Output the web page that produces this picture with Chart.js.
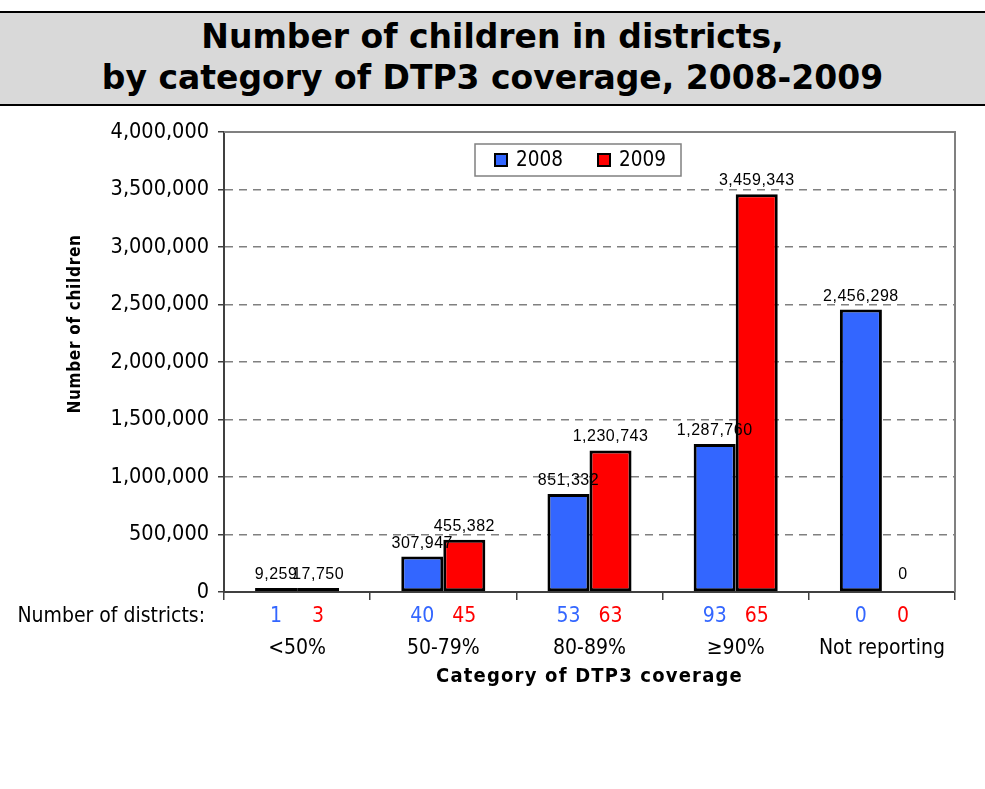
<!DOCTYPE html>
<html>
<head>
<meta charset="utf-8">
<script src="https://cdn.jsdelivr.net/npm/chart.js@4.4.1/dist/chart.umd.min.js"></script>
<style>
  html, body { margin: 0; padding: 0; background: #ffffff; }
  #wrap { position: relative; width: 985px; height: 789px; }
  #title {
    position: absolute; left: 0; top: 11px; width: 985px; height: 88px;
    background: #d9d9d9; border-top: 2px solid #000; border-bottom: 2px solid #000;
    font-family: "DejaVu Sans", Verdana, sans-serif; font-weight: bold;
    font-size: 33px; line-height: 41px; text-align: center; padding-top: 3px;
    box-sizing: content-box; z-index: 2;
  }
  canvas { position: absolute; left: 0; top: 0; }
</style>
</head>
<body>
<div id="wrap">
  <div id="title">Number of children in districts,<br>by category of DTP3 coverage, 2008-2009</div>
  <canvas id="chart" width="985" height="789"></canvas>
</div>
<script>
// Data
const categories = ['<50%', '50-79%', '80-89%', '\u226590%', 'Not reporting'];
const seriesNames = ['2008', '2009'];
const children2008 = [9259, 307947, 851332, 1287760, 2456298];
const children2009 = [17750, 455382, 1230743, 3459343, 0];
const districts2008 = [1, 40, 53, 93, 0];
const districts2009 = [3, 45, 63, 65, 0];
const yTicks = [0, 500000, 1000000, 1500000, 2000000, 2500000, 3000000, 3500000, 4000000];

const BLUE = '#3366ff';
const RED = '#ff0000';
const AXIS = '#404040';
const FONT = '"DejaVu Sans Condensed", "DejaVu Sans", Verdana, sans-serif';
const seriesColors = [BLUE, RED];

function fmt(n) {
    return n.toLocaleString('en-US');
}

// hide bars that are exactly zero (min bar length would show them)
const fillFor = (color) => (c) => (c.raw === 0 ? 'rgba(0,0,0,0)' : color);
const borderFor = (c) => (c.raw === 0 ? 0 : 3);

// value labels, district counts, axis titles, legend and plot frame
const extras = {
    id: 'extras',
    afterDatasetsDraw(chart) {
        const ctx = chart.ctx;
        const area = chart.chartArea;

        // plot frame (top + right)
        ctx.save();
        ctx.strokeStyle = '#808080';
        ctx.lineWidth = 2;
        ctx.beginPath();
        ctx.moveTo(area.left, area.top);
        ctx.lineTo(area.right, area.top);
        ctx.lineTo(area.right, area.bottom);
        ctx.stroke();
        ctx.restore();

        // value labels
        ctx.save();
        ctx.font = '16px "Liberation Sans", Arial, sans-serif';
        ctx.letterSpacing = '0.5px';
        ctx.fillStyle = '#000';
        ctx.textAlign = 'center';
        ctx.textBaseline = 'alphabetic';
        chart.data.datasets.forEach((ds, i) => {
            chart.getDatasetMeta(i).data.forEach((bar, j) => {
                ctx.fillText(fmt(ds.data[j]), bar.x, Math.min(bar.y, bar.base) - 9);
            });
        });
        ctx.restore();

        // district counts
        const counts = [districts2008, districts2009];
        ctx.save();
        ctx.font = '21px ' + FONT;
        ctx.textBaseline = 'middle';
        ctx.textAlign = 'right';
        ctx.fillStyle = '#000';
        ctx.fillText('Number of districts:', 205, 617);
        ctx.textAlign = 'center';
        counts.forEach((list, i) => {
            ctx.fillStyle = seriesColors[i];
            chart.getDatasetMeta(i).data.forEach((bar, j) => {
                ctx.fillText(String(list[j]), bar.x, 617);
            });
        });
        ctx.restore();

        // axis titles
        ctx.save();
        ctx.fillStyle = '#000';
        ctx.textAlign = 'center';
        ctx.textBaseline = 'middle';
        ctx.font = 'bold 20px ' + FONT;
        ctx.letterSpacing = '1.2px';
        ctx.fillText('Category of DTP3 coverage', (area.left + area.right) / 2, 677);
        ctx.translate(76, 324);
        ctx.rotate(-Math.PI / 2);
        ctx.font = 'bold 17px ' + FONT;
        ctx.letterSpacing = '0.7px';
        ctx.fillText('Number of children', 0, 0);
        ctx.restore();

        // legend
        const lx = 475, ly = 144, lw = 206, lh = 32;
        ctx.save();
        ctx.fillStyle = '#fff';
        ctx.fillRect(lx, ly, lw, lh);
        ctx.strokeStyle = '#808080';
        ctx.lineWidth = 1.5;
        ctx.strokeRect(lx, ly, lw, lh);
        ctx.font = '20.5px ' + FONT;
        ctx.textBaseline = 'middle';
        ctx.textAlign = 'left';
        chart.data.datasets.forEach((ds, i) => {
            const sx = lx + 20 + i * 103;
            ctx.fillStyle = seriesColors[i];
            ctx.fillRect(sx, ly + 10, 12, 12);
            ctx.strokeStyle = '#000';
            ctx.lineWidth = 2;
            ctx.strokeRect(sx, ly + 10, 12, 12);
            ctx.fillStyle = '#000';
            ctx.fillText(ds.label, sx + 21, ly + 16.5);
        });
        ctx.restore();
    }
};

const ctx = document.getElementById('chart').getContext('2d');
new Chart(ctx, {
    type: 'bar',
    data: {
        labels: categories,
        datasets: [
            {
                label: seriesNames[0],
                data: children2008,
                backgroundColor: fillFor(BLUE),
                borderColor: '#000',
                borderWidth: borderFor,
                borderSkipped: false,
                minBarLength: 4,
                categoryPercentage: 0.575,
                barPercentage: 1.0
            },
            {
                label: seriesNames[1],
                data: children2009,
                backgroundColor: fillFor(RED),
                borderColor: '#000',
                borderWidth: borderFor,
                borderSkipped: false,
                minBarLength: 4,
                categoryPercentage: 0.575,
                barPercentage: 1.0
            }
        ]
    },
    options: {
        responsive: false,
        animation: false,
        layout: { padding: { top: 132, right: 30, bottom: 0, left: 0 } },
        plugins: {
            tooltip: { enabled: false },
            legend: { display: false }
        },
        scales: {
            x: {
                afterFit(scale) { scale.height = 197; },
                grid: {
                    display: true,
                    drawOnChartArea: false,
                    offset: true,
                    tickLength: 8,
                    color: AXIS,
                    lineWidth: 1.5
                },
                border: { display: true, color: AXIS, width: 2 },
                ticks: {
                    color: '#000',
                    padding: 36,
                    font: { family: FONT, size: 21 }
                }
            },
            y: {
                min: 0,
                max: 4000000,
                afterFit(scale) { scale.width = 224; },
                afterBuildTicks(scale) { scale.ticks = yTicks.map(v => ({ value: v })); },
                grid: {
                    color: (c) => (c.tick && (c.tick.value === 0 || c.tick.value === 4000000)) ? 'rgba(0,0,0,0)' : '#808080',
                    lineWidth: 1.5,
                    tickLength: 6,
                    tickColor: AXIS,
                    tickWidth: 1.5
                },
                border: { display: true, color: AXIS, width: 2, dash: [8, 6] },
                ticks: {
                    color: '#000',
                    padding: 9,
                    font: { family: FONT, size: 21.5 },
                    callback: (v) => fmt(v)
                }
            }
        }
    },
    plugins: [extras]
});
</script>
</body>
</html>
